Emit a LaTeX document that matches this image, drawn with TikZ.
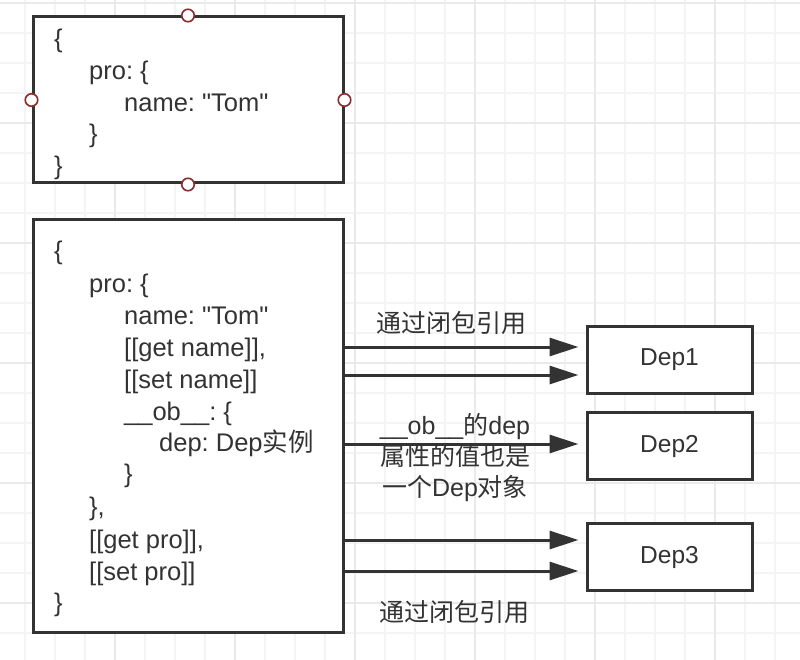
\documentclass[tikz,border=0pt]{standalone}
\usepackage{fontspec}
\setmainfont{Liberation Sans}[Ligatures=TeXOff]
\newfontfamily\cjk{Noto Sans CJK SC}
\usetikzlibrary{arrows.meta}
\frenchspacing
\definecolor{ink}{HTML}{333333}
\definecolor{gridminor}{HTML}{F4F4F4}
\definecolor{gridmajor}{HTML}{EAEAEA}
\definecolor{handle}{HTML}{8E2A2A}
\tikzset{
  box/.style={draw=ink, line width=3pt, fill=white, rectangle, inner sep=0pt},
  code/.style={anchor=base west, inner sep=0pt, text=ink, font=\fontsize{25.5}{31}\selectfont},
  lbl/.style={inner sep=0pt, text=ink, align=center, font=\fontsize{25}{31}\selectfont},
  deplbl/.style={box, minimum width=165pt, minimum height=67pt, text=ink, font=\fontsize{24.5}{31}\selectfont},
  arr/.style={draw=ink, line width=3pt, -{Triangle[length=29pt,width=18pt]}, shorten >=7pt},
  knob/.style={circle, draw=handle, fill=white, line width=1.6pt, minimum size=12.5pt, inner sep=0pt}
}
\begin{document}
\begin{tikzpicture}[x=1pt,y=-1pt]
\useasboundingbox (0,0) rectangle (800,660);
\fill[white] (0,0) rectangle (800,660);
% grid
\foreach \gx in {25,55,...,775} \draw[gridminor, line width=1.3pt] (\gx,0) -- (\gx,660);
\foreach \gy in {3,33,...,663} \draw[gridminor, line width=1.3pt] (0,\gy) -- (800,\gy);
\foreach \gx in {115,235,...,715} \draw[gridmajor, line width=1.3pt] (\gx,0) -- (\gx,660);
\foreach \gy in {3,123,...,603} \draw[gridmajor, line width=1.3pt] (0,\gy) -- (800,\gy);

% top box
\node[box, minimum width=310pt, minimum height=166pt] (top) at (188,100) {};
\node[code] (t1) at (54,48) {\{};
\node[code] (t2) at (89,80) {pro: \{};
\node[code] (t3) at (124,112) {name: "Tom"};
\node[code] (t4) at (89,143) {\}};
\node[code] (t5) at (54,175) {\}};
\foreach \a in {north,south,east,west} \node[knob] (k\a) at (top.\a) {};

% big box
\node[box, minimum width=310pt, minimum height=412pt] (big) at (188,426) {};
\node[code] (b1) at (54,259) {\{};
\node[code] (b2) at (89,292) {pro: \{};
\node[code] (b3) at (124,324) {name: "Tom"};
\node[code] (b4) at (124,356) {[[get name]],};
\node[code] (b5) at (124,388) {[[set name]]};
\node[code] (b6) at (124,420) {\_\_ob\_\_: \{};
\node[code] (b7) at (159,451) {dep: Dep{\cjk 实例}};
\node[code] (b8) at (124,482) {\}};
\node[code] (b9) at (89,515) {\},};
\node[code] (b10) at (89,548) {[[get pro]],};
\node[code] (b11) at (89,580) {[[set pro]]};
\node[code] (b12) at (54,611) {\}};

% dep boxes
\node[deplbl] (dep1) at (669.5,360) {Dep1};
\node[deplbl] (dep2) at (669.5,446) {Dep2};
\node[deplbl] (dep3) at (669.5,557) {Dep3};

% arrows
\draw[arr] (big.east |- 0,347) -- (dep1.west |- 0,347);
\draw[arr] (big.east |- 0,375) -- (dep1.west |- 0,375);
\draw[arr] (big.east |- 0,444) -- (dep2.west |- 0,444);
\draw[arr] (big.east |- 0,540) -- (dep3.west |- 0,540);
\draw[arr] (big.east |- 0,571) -- (dep3.west |- 0,571);

% labels
\node[lbl] (l1) at (451,323) {\cjk 通过闭包引用};
\node[lbl] (l2) at (455,458) {\_\_ob\_\_{\cjk 的}dep\\{\cjk 属性的值也是}\\{\cjk 一个}Dep{\cjk 对象}};
\node[lbl] (l3) at (454,612) {\cjk 通过闭包引用};
\end{tikzpicture}
\end{document}
